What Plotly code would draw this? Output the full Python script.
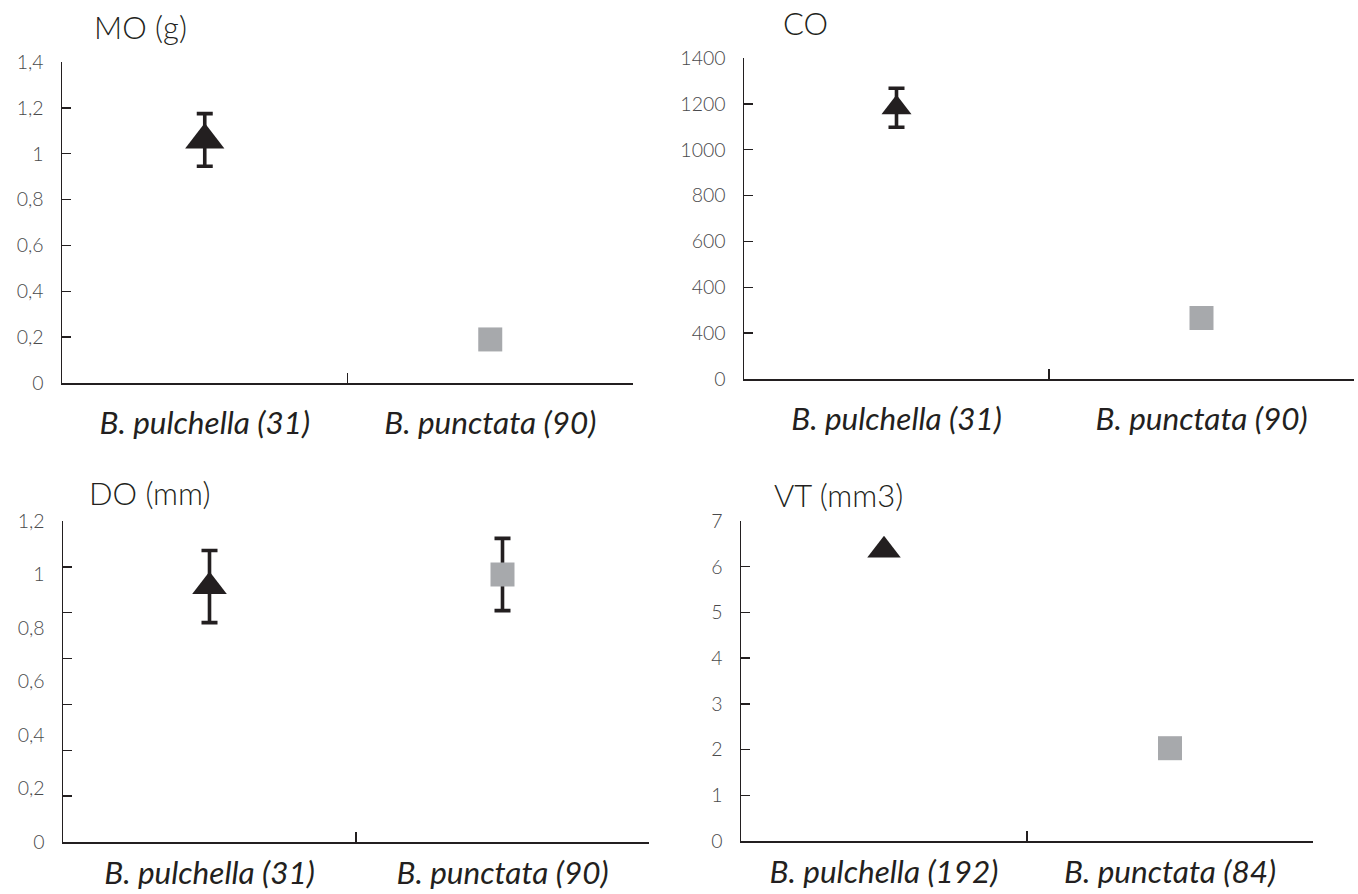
import plotly.graph_objects as go

W, H = 1358, 894

# ---------------- data ----------------
species = ["B. pulchella", "B. punctata"]
n_mo_co_do = [31, 90]
n_vt = [192, 84]

mo_mean = [1.06, 0.19]
mo_err = [0.115, None]
co_mean = [1183, 266]
co_err = [85, None]
do_mean = [0.955, 1.0]
do_err = [0.135, 0.135]
vt_mean = [6.36, 2.03]
vt_err = [None, None]

mo_tickvals = [0, 0.2, 0.4, 0.6, 0.8, 1.0, 1.2, 1.4]
mo_ticktext = ["0", "0,2", "0,4", "0,6", "0,8", "1", "1,2", "1,4"]
co_tickvals = [0, 200, 400, 600, 800, 1000, 1200, 1400]
co_ticktext = ["0", "400", "400", "600", "800", "1000", "1200", "1400"]
do_tickvals = [0, 0.2, 0.4, 0.6, 0.8, 1.0, 1.2]
do_ticktext = ["0", "0,2", "0,4", "0,6", "0,8", "1", "1,2"]
vt_tickvals = [0, 1, 2, 3, 4, 5, 6, 7]
vt_ticktext = ["0", "1", "2", "3", "4", "5", "6", "7"]

titles = ["MO (g)", "CO", "DO (mm)", "VT (mm3)"]

# ---------------- style ----------------
DARK = "#231f20"
GREY = "#a7a9ac"
TICKGREY = "#4a4a4c"
FONT = "Lato"


def cats(counts):
    return [f"{s} ({n})" for s, n in zip(species, counts)]


panels = [
    dict(cats=cats(n_mo_co_do), mean=mo_mean, err=mo_err, rng=[0, 1.4],
         tv=mo_tickvals, tt=mo_ticktext, title=titles[0],
         box=(62, 633, 62, 383), tri=34, title_xy=(92, 27), standoff=12),
    dict(cats=cats(n_mo_co_do), mean=co_mean, err=co_err, rng=[0, 1400],
         tv=co_tickvals, tt=co_ticktext, title=titles[1],
         box=(744, 1354, 58, 379), tri=26, title_xy=(781, 23), standoff=12),
    dict(cats=cats(n_mo_co_do), mean=do_mean, err=do_err, rng=[0, 1.2],
         tv=do_tickvals, tt=do_ticktext, title=titles[2],
         box=(63, 649, 521, 842), tri=30, title_xy=(87, 493),
         extra_ticks=7, standoff=3),
    dict(cats=cats(n_vt), mean=vt_mean, err=vt_err, rng=[0, 7],
         tv=vt_tickvals, tt=vt_ticktext, title=titles[3],
         box=(741, 1313, 521, 841), tri=29, title_xy=(772, 495), standoff=3),
]

fig = go.Figure()
layout = {}
annotations = []
extra_axis_idx = 5

for i, p in enumerate(panels, start=1):
    x0, x1, y0, y1 = p["box"]
    xd = [x0 / W, x1 / W]
    yd = [1 - y1 / H, 1 - y0 / H]
    xa = "x" if i == 1 else f"x{i}"
    ya = "y" if i == 1 else f"y{i}"
    xkey = "xaxis" if i == 1 else f"xaxis{i}"
    ykey = "yaxis" if i == 1 else f"yaxis{i}"

    def ebar(v):
        if v is None:
            return dict(visible=False)
        return dict(type="data", array=[v], visible=True, color=DARK,
                    thickness=3.6, width=8)

    # triangle (first species)
    fig.add_trace(go.Scatter(
        x=[p["cats"][0]], y=[p["mean"][0]], mode="markers",
        marker=dict(symbol="triangle-up", size=p["tri"], color=DARK,
                    line=dict(width=0)),
        error_y=ebar(p["err"][0]), xaxis=xa, yaxis=ya, showlegend=False,
        cliponaxis=False, hoverinfo="skip"))
    # square (second species)
    fig.add_trace(go.Scatter(
        x=[p["cats"][1]], y=[p["mean"][1]], mode="markers",
        marker=dict(symbol="square", size=24, color=GREY,
                    line=dict(width=0)),
        error_y=ebar(p["err"][1]), xaxis=xa, yaxis=ya, showlegend=False,
        cliponaxis=False, hoverinfo="skip"))

    layout[xkey] = dict(
        domain=xd, anchor=ya, type="category", categoryorder="array",
        categoryarray=p["cats"], range=[-0.5, 1.5], automargin=False,
        tickson="boundaries", ticks="inside", ticklen=10, tickwidth=1.3,
        tickcolor=DARK, showline=True, linecolor=DARK, linewidth=1.5,
        showgrid=False, zeroline=False, fixedrange=True,
        tickfont=dict(family=FONT, size=31.5, color=DARK, style="italic"),
        ticklabelstandoff=p["standoff"])
    has_extra = "extra_ticks" in p
    layout[ykey] = dict(
        domain=yd, anchor=xa, range=p["rng"], tickmode="array",
        tickvals=p["tv"], ticktext=p["tt"], automargin=False,
        ticks="" if has_extra else "inside", ticklen=9, tickwidth=1.3,
        tickcolor=DARK, showline=True, linecolor=DARK, linewidth=1.5,
        showgrid=False, zeroline=False, fixedrange=True,
        tickfont=dict(family=FONT, size=19.5, color=TICKGREY, weight=300),
        ticklabelstandoff=13)
    if has_extra:
        k = p["extra_ticks"]
        top = p["rng"][1]
        ekey = f"yaxis{extra_axis_idx}"
        layout[ekey] = dict(
            overlaying=ya, anchor=xa, range=p["rng"], tickmode="array",
            tickvals=[top * j / k for j in range(k + 1)], automargin=False,
            showticklabels=False, ticks="inside", ticklen=9, tickwidth=1.3,
            tickcolor=DARK, showline=False, showgrid=False, zeroline=False,
            fixedrange=True)
        fig.add_trace(go.Scatter(x=[p["cats"][0]], y=[None], mode="markers",
                                 xaxis=xa, yaxis=f"y{extra_axis_idx}",
                                 showlegend=False, hoverinfo="skip"))
        extra_axis_idx += 1

    tx, ty = p["title_xy"]
    annotations.append(dict(
        text=p["title"], xref="paper", yref="paper", x=tx / W, y=1 - ty / H,
        xanchor="left", yanchor="middle", showarrow=False,
        font=dict(family=FONT, size=31, color=DARK, weight=300)))

fig.update_layout(
    template="none",
    width=W, height=H, margin=dict(l=0, r=0, t=0, b=0, pad=0),
    paper_bgcolor="white", plot_bgcolor="white",
    annotations=annotations, showlegend=False, **layout)

fig.write_html(
    "out.html",
    config={"displayModeBar": False, "staticPlot": True},
    post_script="document.body.style.margin='0';"
                "document.body.style.padding='0';"
                "document.body.style.overflow='hidden';")
